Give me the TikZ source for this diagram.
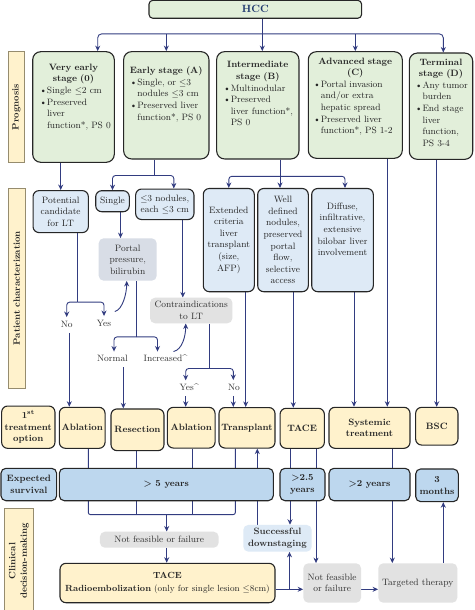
\documentclass[tikz,border=0pt]{standalone}
\usepackage{tikz}
\usepackage{amsmath}
\usepackage{xcolor}
\usetikzlibrary{arrows.meta,backgrounds}
\definecolor{stagegreen}{RGB}{226, 239, 218}
\definecolor{charblue}{RGB}{222, 234, 246}
\definecolor{survblue}{RGB}{189, 215, 238}
\definecolor{treatyellow}{RGB}{255, 242, 204}
\definecolor{boxgray}{RGB}{226, 226, 226}
\definecolor{portalgray}{RGB}{216, 221, 230}
\definecolor{arrownavy}{RGB}{50, 60, 128}
\definecolor{hccnavy}{RGB}{31, 56, 110}
\definecolor{sideborder}{RGB}{150, 140, 110}

\newcommand{\boxfont}{\fontsize{9.2}{11.6}\selectfont}
\newcommand{\bul}[1]{\makebox[7.5pt][l]{\textbullet}\mbox{#1}}
\newcommand{\ind}[1]{\hspace*{7.5pt}\mbox{#1}}

\tikzset{
    base/.style={rectangle,draw=black!85,line width=1.1pt,font=\boxfont,text=black!85,inner sep=1pt,align=center},
    stagebox/.style={base,fill=stagegreen,rounded corners=8pt},
    stagetxt/.style={font=\boxfont,text=black!85,align=left,inner sep=0pt},
    charbox/.style={base,fill=charblue,rounded corners=6pt},
    graybox/.style={rectangle,fill=boxgray,rounded corners=5pt,font=\boxfont,text=black!80,align=center,inner sep=1pt},
    treatbox/.style={base,fill=treatyellow,rounded corners=6pt,font=\boxfont\bfseries},
    survbox/.style={base,fill=survblue,rounded corners=5pt,font=\boxfont\bfseries},
    sidebox/.style={rectangle,draw=sideborder,line width=0.8pt,fill=treatyellow,font=\boxfont\bfseries,text=black!85,rotate=90,align=center,inner sep=0pt},
    lbl/.style={font=\boxfont,text=black!80,inner xsep=1pt,inner ysep=3.5pt,text height=6.5pt,text depth=2pt},
    line/.style={draw=arrownavy,line width=0.9pt},
    arr/.style={line,-{Stealth[length=5.5pt,width=5pt]}},
    rc/.style={rounded corners=3pt}
}

\begin{document}
\begin{tikzpicture}[x=1pt,y=-1pt]
        \useasboundingbox (0,0) rectangle (474,610);

        \node[stagebox,rounded corners=4pt,minimum width=212.7,minimum height=18,font=\fontsize{10.5}{12}\selectfont\bfseries,text=hccnavy] (hcc) at (255.3,9.3) {HCC};

        \node[sidebox,minimum width=111,minimum height=16] (prog) at (16.3,107.1) {Prognosis};
        \node[sidebox,minimum width=199.7,minimum height=16.7] (patc) at (16.7,288.2) {Patient characterization};
        \node[sidebox,minimum width=106,minimum height=29] (clin) at (18.8,561) {Clinical\\decision-making};

        \node[stagebox,minimum width=81.6,minimum height=110.6] (s0) at (73.5,107) {};
        \node[stagetxt,text width=68] (s0txt) at ([yshift=10pt]s0.center) {{\centering\textbf{Very early\\stage (0)}\par}\bul{Single $\le$2 cm}\\\bul{Preserved}\\\ind{liver}\\\ind{function*, PS 0}};

        \node[stagebox,minimum width=85.3,minimum height=107.3] (sA) at (166.3,105.3) {};
        \node[stagetxt,text width=73] (sAtxt) at ([yshift=11pt]sA.center) {{\centering\textbf{Early stage (A)}\par}\bul{Single, or $\le$3}\\\ind{nodules $\le$3 cm}\\\bul{Preserved liver}\\\ind{function*, PS 0}};

        \node[stagebox,minimum width=82.3,minimum height=107.3] (sB) at (257.8,105.3) {};
        \node[stagetxt,text width=69] (sBtxt) at ([yshift=11.5pt]sB.center) {{\centering\textbf{Intermediate\\stage (B)}\par}\bul{Multinodular}\\\bul{Preserved}\\\ind{liver function*,}\\\ind{PS 0}};

        \node[stagebox,minimum width=94,minimum height=106.6] (sC) at (355.3,105) {};
        \node[stagetxt,text width=84] (sCtxt) at ([yshift=8.5pt]sC.center) {{\centering\textbf{Advanced stage\\(C)}\par}\bul{Portal invasion}\\\ind{and/or extra}\\\ind{hepatic spread}\\\bul{Preserved liver}\\\ind{function*, PS 1-2}};

        \node[stagebox,minimum width=63.4,minimum height=106.3] (sD) at (441,106.2) {};
        \node[stagetxt,text width=52] (sDtxt) at ([yshift=3.6pt]sD.center) {{\centering\textbf{Terminal\\stage (D)}\par}\bul{Any tumor}\\\ind{burden}\\\bul{End stage}\\\ind{liver}\\\ind{function,}\\\ind{PS 3-4}};

        \node[charbox,minimum width=55.3,minimum height=42] (pot) at (60.7,211.6) {Potential\\candidate\\for LT};
        \node[charbox,minimum width=33.6,minimum height=21] (single) at (112.5,201.2) {Single};
        \node[charbox,minimum width=58.3,minimum height=30.5] (nod) at (164.8,204.3) {$\le$3 nodules,\\each $\le$3 cm};
        \node[charbox,minimum width=51,minimum height=103.2] (ext) at (228.8,240.1) {Extended\\criteria\\liver\\transplant\\(size,\\AFP)};
        \node[charbox,minimum width=50.6,minimum height=103.2] (well) at (283,240.1) {Well\\defined\\nodules,\\preserved\\portal\\flow,\\selective\\access};
        \node[charbox,minimum width=61.6,minimum height=103.2] (diff) at (342.5,240.1) {};
        \node[stagetxt,align=center] (difftxt) at ([yshift=10.7pt]diff.center) {Diffuse,\\infiltrative,\\extensive\\bilobar liver\\involvement};

        \node[graybox,fill=portalgray,minimum width=58,minimum height=42.4] (portal) at (127.7,259.5) {Portal\\pressure,\\bilirubin};
        \node[graybox,minimum width=82.3,minimum height=25.6] (contra) at (191.2,310.5) {Contraindications\\to LT};

        \node[lbl] (no1) at (66.7,325) {No};
        \node[lbl] (yes1) at (104,324) {Yes};
        \node[lbl] (norm) at (112.5,359.5) {Normal};
        \node[lbl] (incr) at (165.5,359.5) {Increased\textasciicircum};
        \node[lbl] (yes2) at (189.3,388.3) {Yes\textasciicircum};
        \node[lbl] (no2) at (234,388) {No};

        \node[treatbox,minimum width=53.3,minimum height=42.3] (first) at (28.3,427.2) {1\textsuperscript{st}\\treatment\\option};
        \node[treatbox,minimum width=45.7,minimum height=41] (abl1) at (82.2,427.8) {Ablation};
        \node[treatbox,minimum width=53,minimum height=41.7] (res) at (137.5,429.8) {Resection};
        \node[treatbox,minimum width=47.7,minimum height=40.7] (abl2) at (191.2,427.7) {Ablation};
        \node[treatbox,minimum width=56,minimum height=40.5] (trans) at (247,427.8) {Transplant};
        \node[treatbox,minimum width=44.3,minimum height=40] (tace) at (302.2,428.3) {TACE};
        \node[treatbox,minimum width=81,minimum height=41] (sys) at (369.5,427.8) {Systemic\\treatment};
        \node[treatbox,minimum width=42.3,minimum height=37.7] (bsc) at (436.8,426.2) {BSC};

        \node[survbox,minimum width=55.7,minimum height=32.4] (expsurv) at (28.8,484.5) {Expected\\survival};
        \node[survbox,minimum width=214,minimum height=32.4] (five) at (166.3,484.5) {> 5 years};
        \node[survbox,minimum width=45,minimum height=32.4] (twohalf) at (302.5,484.5) {>2.5\\years};
        \node[survbox,minimum width=81,minimum height=32.4] (two) at (369.5,484.5) {>2 years};
        \node[survbox,minimum width=42.6,minimum height=32.7] (mon) at (437,485.3) {3\\months};

        \node[graybox,minimum width=118.7,minimum height=16] (nf1) at (159.3,539.7) {Not feasible or failure};
        \node[graybox,fill=charblue,font=\boxfont\bfseries,minimum width=68.4,minimum height=26.7] (succ) at (277.5,538.3) {Successful\\downstaging};
        \node[treatbox,font=\fontsize{8.9}{12.3}\selectfont,minimum width=215,minimum height=39.4] (radio) at (167.5,583) {\textbf{TACE}\\\textbf{Radioembolization} (only for single lesion $\le$8cm)};
        \node[graybox,minimum width=57.7,minimum height=39.4] (nf2) at (332.2,583) {Not feasible\\or failure};
        \node[graybox,minimum width=79,minimum height=39.4] (targ) at (417.8,583) {Targeted therapy};

        \begin{pgfonlayer}{background}
        \fill[white] (0,0) rectangle (474,610);

        \draw[arr] ([xshift=7pt]hcc.south) -- ([xshift=4.5pt]sB.north);
        \path ([xshift=7pt,yshift=-15pt]hcc.south) coordinate (fork);
        \draw[arr,rounded corners=4pt] (fork) -| ([xshift=24.2pt]s0.north);
        \draw[arr,rounded corners=4pt] (fork) -| ([xshift=2.3pt]sD.north);
        \draw[arr] (fork -| sA.north) -- (sA.north);
        \draw[arr] (fork -| sC.north) -- (sC.north);

        \draw[arr] (pot.north |- s0.south) -- (pot.north);
        \draw[line] ([xshift=-12pt]sA.south) -- ++(0,16) coordinate (forkA);
        \draw[arr,rc] (forkA) -| (single.north);
        \draw[arr,rc] (forkA) -| ([xshift=9pt]nod.north);
        \draw[line] ([xshift=22.2pt]sB.south) -- ++(0,16.8) coordinate (forkB);
        \draw[arr] (forkB) -- (forkB |- well.north);
        \draw[arr,rc] (forkB) -| (ext.north);
        \draw[arr,rc] (forkB) -| ([xshift=2.5pt]diff.north);

        \draw[arr] ([xshift=8pt]single.south) -- ([xshift=8pt]single.south |- portal.north);
        \draw[arr] ([xshift=18pt]nod.south) -- ([xshift=18pt]nod.south |- contra.north);

        \draw[line] ([xshift=16.6pt]pot.south) -- ++(0,69) coordinate (forkP);
        \draw[arr,rc] (forkP) -| (no1.north);
        \draw[arr,rc] (forkP) -| (yes1.north);
        \draw[arr] ([xshift=2.5pt,yshift=4.5pt]yes1.north east) .. controls +(8,-2) and +(0,12) .. ([xshift=-1pt]portal.south);

        \draw[line] ([xshift=8.3pt]portal.south) -- ++(0,56) coordinate (forkQ);
        \draw[arr,rc] (forkQ) -| ([xshift=1.5pt]norm.north);
        \draw[arr,rc] (forkQ) -| ([xshift=-8pt]incr.north);
        \draw[arr] ([xshift=8pt]incr.north) .. controls +(9,-2) and +(0,12) .. ([xshift=-5.5pt]contra.south);

        \draw[line] ([xshift=17.8pt]contra.south) -- ++(0,45) coordinate (forkC);
        \draw[arr,rc] (forkC) -| ([xshift=-3.6pt]yes2.north);
        \draw[arr,rc] (forkC) -| ([xshift=-0.7pt]no2.north);

        \draw[arr] ([xshift=2.6pt]no1.south) -- ([xshift=2.6pt]no1.south |- abl1.north);
        \draw[arr] ([xshift=10.8pt]norm.south) -- ([xshift=10.8pt]norm.south |- res.north);
        \draw[arr] ([xshift=-3.6pt]yes2.south) -- ([xshift=-3.6pt]yes2.south |- abl2.north);
        \draw[arr] ([xshift=-0.7pt]no2.south) -- ([xshift=-0.7pt]no2.south |- trans.north);
        \draw[arr] ([xshift=16.9pt]ext.south) -- ([xshift=16.9pt]ext.south |- trans.north);
        \draw[arr] ([xshift=10.3pt]well.south) -- ([xshift=10.3pt]well.south |- tace.north);
        \draw[arr] ([xshift=11.5pt]diff.south) -- ([xshift=11.5pt]diff.south |- sys.north);
        \draw[arr] ([xshift=32pt]sC.south) -- ([xshift=32pt]sC.south |- sys.north);
        \draw[arr] ([xshift=-4.3pt]sD.south) -- ([xshift=-4.3pt]sD.south |- bsc.north);

        \draw[line,rounded corners=2pt] ([xshift=6.1pt]abl1.south) -- ++(0,65.7) coordinate (brk) -| ([xshift=-11.7pt]trans.south);
        \draw[line] ([xshift=-1.5pt]res.south) -- ([xshift=-1.5pt]res.south |- brk);
        \draw[line] ([xshift=1.1pt]abl2.south) -- ([xshift=1.1pt]abl2.south |- brk);
        \draw[arr] ([xshift=7.4pt]nf1.north |- brk) -- ([xshift=7.4pt]nf1.north);
        \draw[arr] ([xshift=7.4pt]nf1.south) -- ([xshift=7.4pt]nf1.south |- radio.north);

        \draw[arr] ([xshift=-20.2pt]succ.north) -- ([xshift=-20.2pt]succ.north |- trans.south);
        \draw[arr] ([xshift=-12.2pt]tace.south) -- ([xshift=-12.2pt]tace.south |- succ.north);
        \draw[arr] ([xshift=13.8pt]tace.south) -- ([xshift=13.8pt]tace.south |- nf2.north);

        \path ([yshift=-6.3pt]radio.east) coordinate (rj);
        \path ([xshift=12pt]succ.south) coordinate (sj);
        \draw[arr] (rj) -- (rj -| nf2.west);
        \draw[arr] (sj |- rj) -- (sj);
        \draw[arr] (nf2.east |- rj) -- (targ.west |- rj);

        \draw[line] ([xshift=22.8pt]sys.south) -- ([xshift=22.8pt]sys.south |- two.north);
        \draw[arr] ([xshift=22.8pt]two.south) -- ([xshift=22.8pt]two.south |- targ.north);
        \draw[arr] ([xshift=25.5pt]targ.north) -- ([xshift=25.5pt]targ.north |- mon.south);
        \end{pgfonlayer}
    \end{tikzpicture}
\end{document}
